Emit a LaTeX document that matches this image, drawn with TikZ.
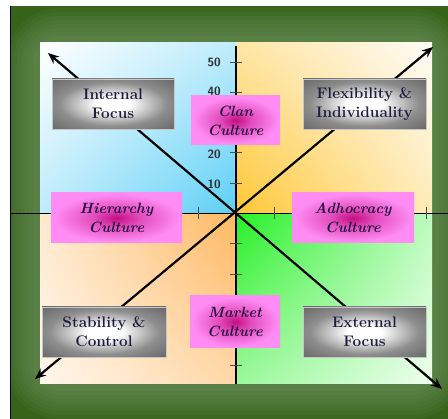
\documentclass[tikz,border=0pt]{standalone}
\usepackage{fontspec}
\usetikzlibrary{arrows.meta,shadings}
\definecolor{framegreen}{HTML}{35631A}
\definecolor{glowgreen}{HTML}{86A67A}
\definecolor{cyanC}{HTML}{5CCFF6}
\definecolor{yelC}{HTML}{FFC736}
\definecolor{oraC}{HTML}{FFB862}
\definecolor{grnC}{HTML}{26F026}
\definecolor{txtC}{HTML}{1C1C40}
\definecolor{ptxtC}{HTML}{261040}
\definecolor{numC}{HTML}{2E2E2E}
\definecolor{gbEdge}{HTML}{6C6C6C}
\definecolor{gbMid}{HTML}{8E8E8E}
\definecolor{pkEdge}{HTML}{FF8CF4}
\definecolor{pkMid}{HTML}{E24CBC}
\definecolor{pkCen}{HTML}{C40E82}
\pgfdeclareradialshading{grayboxshade}{\pgfpoint{0bp}{0bp}}{color(0bp)=(white); color(7bp)=(white); color(22bp)=(gbMid); color(34bp)=(gbEdge); color(50bp)=(gbEdge)}
\pgfdeclareradialshading{pinkboxshade}{\pgfpoint{0bp}{0bp}}{color(0bp)=(pkCen); color(9bp)=(pkMid); color(24bp)=(pkEdge); color(50bp)=(pkEdge)}
\tikzset{
  graybox/.style={shade, shading=grayboxshade, draw=gray!45, line width=0.6pt,
    inner sep=0pt, outer sep=0pt, align=center, text=txtC,
    font=\fontsize{15.3}{19}\selectfont\bfseries},
  pinkbox/.style={shade, shading=pinkboxshade, inner sep=0pt, outer sep=0pt,
    align=center, text=ptxtC, font=\fontsize{14.9}{19}\selectfont\bfseries\itshape},
  axisline/.style={black, line width=1.1pt},
  tickline/.style={black!70, line width=0.8pt},
  diag/.style={black, line width=2.2pt, {Stealth[length=11pt,width=9pt]}-{Stealth[length=11pt,width=9pt]}},
  numlab/.style={text=numC, font=\fontsize{12}{12}\selectfont\sffamily\bfseries, anchor=east, inner sep=0pt}
}
\begin{document}
\begin{tikzpicture}[x=1pt,y=-1pt]
\useasboundingbox (0,0) rectangle (448,419);
\fill[white] (0,0) rectangle (448,419);
% frame
\fill[framegreen] (10,6) rectangle (448,419);
\begin{scope}
  \clip (10,6) rectangle (448,419);
  \foreach \w in {70,62,54,46,38,30,22,14}
    \draw[glowgreen, line width=\w pt, opacity=0.08, rounded corners=20pt] (40,43) rectangle (432,384);
\end{scope}
\draw[black, line width=0.9pt] (10,419) -- (10,6);
% quadrants
\shade[upper left=white, lower right=cyanC, upper right=cyanC!40!white, lower left=cyanC!40!white] (40,43) rectangle (236,213.5);
\shade[lower left=yelC, upper right=white!97!orange, upper left=yelC!45!white, lower right=yelC!35!white] (236,43) rectangle (432,213.5);
\shade[upper right=oraC, lower left=oraC!12!white, upper left=oraC!30!white, lower right=oraC!55!white] (40,213.5) rectangle (236,384);
\shade[upper left=grnC, lower right=grnC!8!white, upper right=grnC!30!white, lower left=grnC!45!white] (236,213.5) rectangle (432,384);
% axes
\coordinate (xl) at (10,213.5);
\coordinate (xr) at (448,213.5);
\coordinate (yt) at (236,46);
\coordinate (yb) at (236,384);
\draw[axisline] (xl) -- (xr);
\draw[axisline] (yt) -- (yb);
\foreach \k in {1,...,5} {
  \draw[tickline] (230,213.5-30.3*\k) -- (242,213.5-30.3*\k);
  \draw[tickline] (230,213.5+30.3*\k) -- (242,213.5+30.3*\k);
  \draw[tickline] (236+38*\k,207.5) -- (236+38*\k,219.5);
}
\foreach \k in {1,...,4}
  \draw[tickline] (236-38*\k,207.5) -- (236-38*\k,219.5);
\node[numlab] (n10) at (221,184) {10};
\node[numlab] (n20) at (221,154) {20};
\node[numlab] (n40) at (221,91) {40};
\node[numlab] (n50) at (221,62.5) {50};
% diagonals
\coordinate (tl) at (48,53);
\coordinate (br) at (442,389);
\coordinate (tr) at (433,47);
\coordinate (bl) at (35,379);
\draw[diag] (tl) -- (br);
\draw[diag] (bl) -- (tr);
% gray boxes
\node[graybox, minimum width=122pt, minimum height=50pt] (intf) at (113,104) {Internal\\Focus};
\node[graybox, minimum width=123pt, minimum height=50pt] (flex) at (364.5,104) {Flexibility \&\\Individuality};
\node[graybox, minimum width=124pt, minimum height=50pt] (stab) at (104,332) {Stability \&\\Control};
\node[graybox, minimum width=123pt, minimum height=50pt] (extf) at (364.5,332) {External\\Focus};
% pink boxes
\node[pinkbox, minimum width=89pt, minimum height=49pt] (clan) at (235.5,120.5) {Clan\\Culture};
\node[pinkbox, minimum width=131pt, minimum height=50pt] (hier) at (116.5,218) {Hierarchy\\Culture};
\node[pinkbox, minimum width=122pt, minimum height=50pt] (adho) at (353,218) {Adhocracy\\Culture};
\node[pinkbox, minimum width=90pt, minimum height=52pt] (mark) at (235,322) {Market\\Culture};
\end{tikzpicture}
\end{document}
